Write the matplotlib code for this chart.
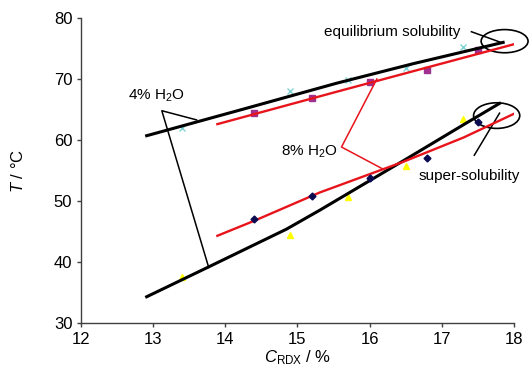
import matplotlib
matplotlib.use("Agg")
import matplotlib.pyplot as plt
from matplotlib.patches import Ellipse

#%% --- Data ---

# fitted curves (C_RDX %, T degC)
eq4_x = [12.91, 14.2, 15.54, 16.6, 17.85]
eq4_t = [60.7, 64.9, 69.3, 72.5, 76.0]
eq8_x = [13.89, 15.54, 16.8, 18.0]
eq8_t = [62.6, 67.9, 71.9, 75.7]
sup4_x = [12.91, 13.77, 14.85, 15.31, 16.51, 17.3, 17.8]
sup4_t = [34.3, 39.2, 45.4, 48.5, 56.9, 62.5, 66.0]
sup8_x = [13.89, 14.39, 15.31, 16.46, 17.3, 18.0]
sup8_t = [44.3, 46.7, 51.4, 56.4, 60.4, 64.3]

# measured points
pts4_x = [13.4, 14.9, 15.7, 16.5, 17.3]
pts4_eq = [61.9, 68.0, 69.8, 71.8, 75.3]
pts4_sup = [37.6, 44.5, 50.7, 55.7, 63.4]
pts8_x = [14.4, 15.2, 16.0, 16.8, 17.5]
pts8_eq = [64.4, 66.9, 69.5, 71.4, 74.8]
pts8_sup = [47.0, 50.9, 53.8, 57.0, 62.9]

x_ticks = [12, 13, 14, 15, 16, 17, 18]
y_ticks = [30, 40, 50, 60, 70, 80]

#%% --- Style ---

plt.rcParams["font.family"] = ["Liberation Sans", "DejaVu Sans"]
plt.rcParams["mathtext.fontset"] = "custom"
plt.rcParams["mathtext.rm"] = "Liberation Sans"
plt.rcParams["mathtext.it"] = "Liberation Sans:italic"
plt.rcParams["font.size"] = 12

axis_grey = "#404040"
red = "#e8141c"

fig = plt.figure(figsize=(5.29, 3.68), dpi=100)
ax = fig.add_axes([0.1531, 0.1223, 0.8185, 0.8288])

# --- curves ---
ax.plot(eq4_x, eq4_t, color="black", lw=2.2, zorder=3)
ax.plot(sup4_x, sup4_t, color="black", lw=2.2, zorder=3)
ax.plot(eq8_x, eq8_t, color=red, lw=1.7, zorder=3)
ax.plot(sup8_x, sup8_t, color=red, lw=1.7, zorder=3)

# --- points ---
ax.plot(pts4_x, pts4_eq, ls="none", marker="x", ms=4, mew=1, color="#7fd3d6", zorder=2)
ax.plot(pts4_x, pts4_sup, ls="none", marker="^", ms=5, color="#ffff00", zorder=2)
ax.plot(pts8_x, pts8_eq, ls="none", marker="s", ms=4.5, color="#a0308f", zorder=2)
ax.plot(pts8_x, pts8_sup, ls="none", marker="D", ms=3.5, color="#0a0a50", zorder=4)

# --- annotations ---
ax.text(13.04, 67.2, "4% H$_2$O", ha="center", va="center", fontsize=11)
ax.plot([13.6, 13.12, 13.77], [63.3, 64.8, 39.1], color="black", lw=1.1, zorder=2)

ax.text(15.17, 58.1, "8% H$_2$O", ha="center", va="center", fontsize=11)
ax.plot([16.1, 15.61, 16.19], [70.0, 58.85, 55.2], color=red, lw=1.1, zorder=2)

ax.text(15.37, 77.7, "equilibrium solubility", ha="left", va="center", fontsize=11)
ax.plot([17.41, 17.83], [77.75, 75.95], color="black", lw=1.1)
ax.add_patch(Ellipse((17.87, 76.2), 0.65, 3.8, fill=False, ec="black", lw=1.2, clip_on=False))

ax.text(16.68, 54.1, "super-solubility", ha="left", va="center", fontsize=11)
ax.plot([17.45, 17.8], [57.5, 64.4], color="black", lw=1.1)
ax.add_patch(Ellipse((17.76, 64.0), 0.64, 4.2, fill=False, ec="black", lw=1.2, clip_on=False))

# --- axes ---
ax.set_xlim(12, 18)
ax.set_ylim(30, 80)
ax.set_xticks(x_ticks)
ax.set_yticks(y_ticks)
for side in ["top", "right"]:
    ax.spines[side].set_visible(False)
for side in ["left", "bottom"]:
    ax.spines[side].set_color(axis_grey)
    ax.spines[side].set_linewidth(1.0)
ax.tick_params(direction="out", length=3.2, width=1.0, color=axis_grey, pad=3, labelsize=12)

ax.set_xlabel("$C_{\\mathrm{RDX}}$ / %", fontsize=12, labelpad=1)
ax.set_ylabel("$T$ / °C", fontsize=12, labelpad=20)

fig.savefig("out.png", dpi=100)
